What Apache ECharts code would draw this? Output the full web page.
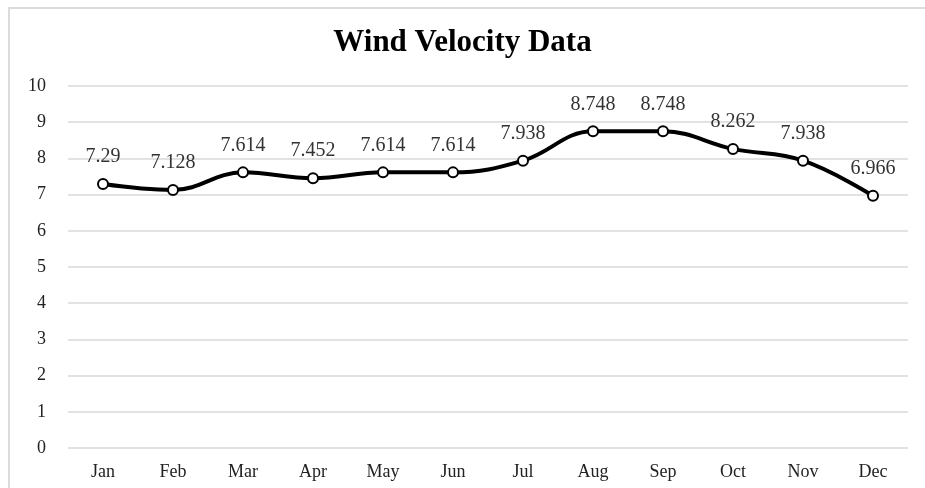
<!DOCTYPE html>
<html lang="en">
<head>
    <meta charset="utf-8">
    <title>Wind Velocity Data</title>
    <script src="https://cdn.jsdelivr.net/npm/echarts@6/dist/echarts.min.js"></script>
    <style>
        html, body { margin: 0; padding: 0; background: #fff; }
        #chart { width: 925px; height: 488px; }
    </style>
</head>
<body>
<div id="chart"></div>
<script type="application/javascript">
    var months = ['Jan', 'Feb', 'Mar', 'Apr', 'May', 'Jun', 'Jul', 'Aug', 'Sep', 'Oct', 'Nov', 'Dec'];
    var velocity = [7.29, 7.128, 7.614, 7.452, 7.614, 7.614, 7.938, 8.748, 8.748, 8.262, 7.938, 6.966];
    var yTicks = [0, 1, 2, 3, 4, 5, 6, 7, 8, 9, 10];

    var serif = '"Liberation Serif", "DejaVu Serif", serif';
    var chart = echarts.init(document.getElementById('chart'));

    chart.setOption({
        animation: false,
        title: {
            text: 'Wind Velocity Data',
            left: 'center',
            top: 22,
            textStyle: { fontFamily: serif, fontSize: 31, fontWeight: 'bold', color: '#000' }
        },
        graphic: [{
            type: 'rect',
            shape: { x: 9, y: 8, width: 940, height: 500 },
            style: { fill: 'none', stroke: '#dcdcdc', lineWidth: 2 },
            silent: true
        }],
        grid: { left: 68, right: 17, top: 86, bottom: 40 },
        xAxis: {
            type: 'category',
            data: months,
            boundaryGap: true,
            axisLine: { show: false },
            axisTick: { show: false },
            axisLabel: { fontFamily: serif, fontSize: 18, color: '#222', margin: 15 }
        },
        yAxis: {
            type: 'value',
            min: yTicks[0],
            max: yTicks[yTicks.length - 1],
            interval: 1,
            axisLine: { show: false },
            axisTick: { show: false },
            axisLabel: { fontFamily: serif, fontSize: 18, color: '#222', margin: 22 },
            splitLine: { lineStyle: { color: '#d9d9d9', width: 1.5 } }
        },
        series: [{
            type: 'line',
            data: velocity,
            smooth: 0.4,
            symbol: 'emptyCircle',
            symbolSize: 10,
            lineStyle: { color: '#000', width: 4 },
            itemStyle: { color: '#000', borderColor: '#000', borderWidth: 4.5 },
            label: {
                show: true,
                position: 'top',
                distance: 11,
                fontFamily: serif,
                fontSize: 20,
                color: '#333'
            }
        }]
    });
</script>
</body>
</html>
